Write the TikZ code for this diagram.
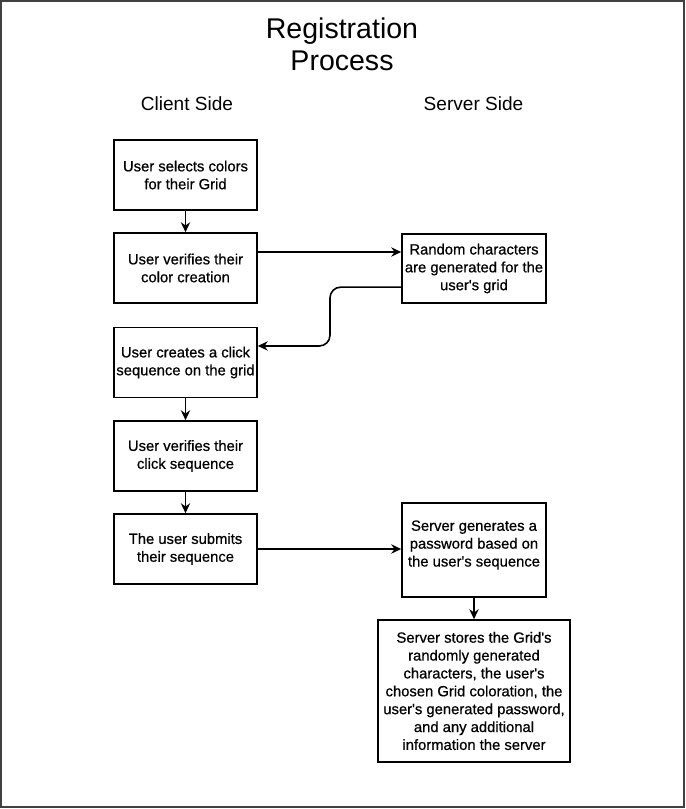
\documentclass[tikz,border=0pt]{standalone}
\usepackage{fontspec}
\setmainfont{Liberation Sans}
\newfontfamily\boxfont{Liberation Sans}[FakeBold=0.7]
\usetikzlibrary{arrows.meta}
\begin{document}
\begin{tikzpicture}[x=0.75pt,y=-0.75pt,
  box/.style={draw=black, line width=1.2pt, align=center, inner sep=0pt,
    font=\boxfont\fontsize{11.1}{13.4}\selectfont, minimum width=107.25pt, minimum height=52.5pt},
  conn/.style={line width=1.2pt, -{Stealth[length=7.5pt,width=7pt,inset=2.5pt]}},
  title/.style={align=center, font=\fontsize{21.4}{24}\selectfont},
  header/.style={font=\fontsize{14.3}{17}\selectfont}]
\useasboundingbox (0,0) rectangle (685,809);
\draw[line width=1.1pt, draw=black!75] (1,1) rectangle (684,807);

\node[title] (t) at (342,44) {Registration\\Process};
\node[header] (hc) at (187,104) {Client Side};
\node[header] (hs) at (473.5,104) {Server Side};

\node[box] (b1) at (185.5,175) {User selects colors\\for their Grid};
\node[box] (b2) at (185.5,268) {User verifies their\\color creation};
\node[box, minimum width=108pt, minimum height=51.75pt] (b3) at (474,268.5) {Random characters\\are generated for the\\user's grid};
\node[box] (b4) at (185.5,362.5) {User creates a click\\sequence on the grid};
\node[box] (b5) at (185.5,456) {User verifies their\\click sequence};
\node[box] (b6) at (185.5,549) {The user submits\\their sequence};
\node[box, minimum width=108pt, minimum height=70.5pt] (b7) at (474,550) {Server generates a\\password based on\\the user's sequence\rule[-9.8pt]{0pt}{0pt}};
\node[box, minimum width=144pt, minimum height=106.5pt] (b8) at (474,691) {Server stores the Grid's\\randomly generated\\characters, the user's\\chosen Grid coloration, the\\user's generated password,\\and any additional\\information the server};

\coordinate (m) at (330,316);

\draw[conn] (b1) -- (b2);
\draw[conn] ([yshift=12pt]b2.east) -- ([yshift=12pt]b2.east -| b3.west);
\draw[conn, rounded corners=8pt] ([yshift=-14pt]b3.west) -| (m) |- ([yshift=12.4pt]b4.east);
\draw[conn] (b4) -- (b5);
\draw[conn] (b5) -- (b6);
\draw[conn] (b6.east) -- (b6.east -| b7.west);
\draw[conn] (b7) -- (b8);
\end{tikzpicture}
\end{document}
